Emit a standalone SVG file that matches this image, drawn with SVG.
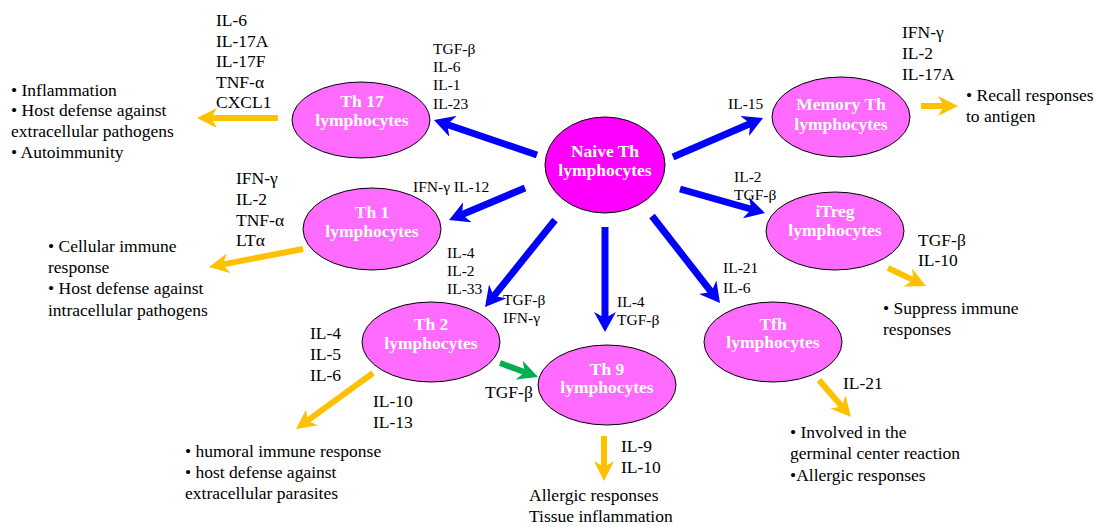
<svg xmlns="http://www.w3.org/2000/svg" width="1096" height="527" viewBox="0 0 1096 527">
<style>
.cell{fill:#ff6bff;stroke:#000;stroke-width:1}
.naive{fill:#ff00ff;stroke:#000;stroke-width:1}
.nt{font-family:"Liberation Serif","Times New Roman",serif;font-weight:bold;font-size:17.5px;fill:#fff;text-anchor:middle}
.t{font-family:"Liberation Serif","Times New Roman",serif;font-size:17.5px;fill:#000}
.s{font-family:"Liberation Serif","Times New Roman",serif;font-size:15.5px;fill:#000}
.b{stroke:#0000ff;stroke-width:7;fill:none;marker-end:url(#hb)}
.y{stroke:#ffc000;stroke-width:6;fill:none;marker-end:url(#hy)}
.g{stroke:#00b050;stroke-width:6;fill:none;marker-end:url(#hg)}
</style>
<defs>
<marker id="hb" markerUnits="userSpaceOnUse" viewBox="0 0 20 22" markerWidth="20" markerHeight="22" refX="7" refY="11" orient="auto"><path d="M0,0 L20,11 L0,22 L6,11 z" fill="#0000ff"/></marker>
<marker id="hy" markerUnits="userSpaceOnUse" viewBox="0 0 20 20" markerWidth="20" markerHeight="20" refX="7" refY="10" orient="auto"><path d="M0,0 L20,10 L0,20 L6,10 z" fill="#ffc000"/></marker>
<marker id="hg" markerUnits="userSpaceOnUse" viewBox="0 0 20 20" markerWidth="20" markerHeight="20" refX="7" refY="10" orient="auto"><path d="M0,0 L20,10 L0,20 L6,10 z" fill="#00b050"/></marker>
</defs>
<rect width="1096" height="527" fill="#fff"/>
<g id="connectors">
<line class="b" x1="537" y1="155" x2="446.3" y2="124.2"/>
<line class="b" x1="673" y1="157" x2="751.1" y2="123.2"/>
<line class="b" x1="525" y1="188" x2="461" y2="215"/>
<line class="b" x1="680" y1="189" x2="752.5" y2="209.5"/>
<line class="b" x1="555" y1="220" x2="493.2" y2="296.9"/>
<line class="b" x1="605" y1="227" x2="605" y2="319"/>
<line class="b" x1="652" y1="216" x2="712" y2="292.8"/>
<line class="g" x1="500" y1="363" x2="525.8" y2="372.5"/>
<line class="y" x1="278" y1="118" x2="210" y2="118"/>
<line class="y" x1="921" y1="106" x2="945" y2="106"/>
<line class="y" x1="303" y1="249" x2="221.8" y2="264.6"/>
<line class="y" x1="888" y1="268" x2="914.2" y2="280.4"/>
<line class="y" x1="373" y1="373" x2="306.5" y2="421.4"/>
<line class="y" x1="604" y1="436" x2="604" y2="468"/>
<line class="y" x1="819" y1="380" x2="842.5" y2="407.2"/>
</g>
<g id="naive">
<ellipse class="naive" cx="605" cy="165" rx="60" ry="48"/>
<text class="nt" x="605" y="157">Naive Th</text>
<text class="nt" x="605" y="176">lymphocytes</text>
</g>
<g id="th17">
<ellipse class="cell" cx="361" cy="120" rx="69" ry="38"/>
<text class="nt" x="362" y="107">Th 17</text>
<text class="nt" x="362" y="126">lymphocytes</text>
</g>
<g id="memory">
<ellipse class="cell" cx="841" cy="117" rx="69" ry="40"/>
<text class="nt" x="841" y="110">Memory Th</text>
<text class="nt" x="841" y="130">lymphocytes</text>
</g>
<g id="th1">
<ellipse class="cell" cx="372" cy="229" rx="69" ry="41"/>
<text class="nt" x="372" y="218">Th 1</text>
<text class="nt" x="372" y="237">lymphocytes</text>
</g>
<g id="itreg">
<ellipse class="cell" cx="835" cy="231" rx="69" ry="39"/>
<text class="nt" x="835" y="217">iTreg</text>
<text class="nt" x="835" y="236">lymphocytes</text>
</g>
<g id="th2">
<ellipse class="cell" cx="431" cy="342" rx="69" ry="40"/>
<text class="nt" x="431" y="330">Th 2</text>
<text class="nt" x="431" y="349">lymphocytes</text>
</g>
<g id="th9">
<ellipse class="cell" cx="607" cy="385" rx="69" ry="40"/>
<text class="nt" x="607" y="375">Th 9</text>
<text class="nt" x="607" y="393">lymphocytes</text>
</g>
<g id="tfh">
<ellipse class="cell" cx="773" cy="342" rx="69" ry="40"/>
<text class="nt" x="773" y="330">Tfh</text>
<text class="nt" x="773" y="348">lymphocytes</text>
</g>
<g id="labels">
<text class="t" x="216" y="26">IL-6</text>
<text class="t" x="216" y="47">IL-17A</text>
<text class="t" x="216" y="67">IL-17F</text>
<text class="t" x="216" y="88">TNF-α</text>
<text class="t" x="216" y="108">CXCL1</text>
<text class="t" x="11" y="96">• Inflammation</text>
<text class="t" x="11" y="116">• Host defense against</text>
<text class="t" x="11" y="137">extracellular pathogens</text>
<text class="t" x="11" y="158">• Autoimmunity</text>
<text class="s" x="433" y="54">TGF-β</text>
<text class="s" x="433" y="72">IL-6</text>
<text class="s" x="433" y="90">IL-1</text>
<text class="s" x="433" y="109">IL-23</text>
<text class="s" x="728" y="109">IL-15</text>
<text class="t" x="902" y="38">IFN-γ</text>
<text class="t" x="902" y="59">IL-2</text>
<text class="t" x="902" y="80">IL-17A</text>
<text class="t" x="966" y="101">• Recall responses</text>
<text class="t" x="966" y="122">to antigen</text>
<text class="s" x="413" y="192">IFN-γ IL-12</text>
<text class="s" x="734" y="182">IL-2</text>
<text class="s" x="734" y="200">TGF-β</text>
<text class="t" x="236" y="184">IFN-γ</text>
<text class="t" x="236" y="205">IL-2</text>
<text class="t" x="236" y="226">TNF-α</text>
<text class="t" x="236" y="246">LTα</text>
<text class="t" x="48" y="252">• Cellular immune</text>
<text class="t" x="48" y="273">response</text>
<text class="t" x="48" y="294">• Host defense against</text>
<text class="t" x="48" y="316">intracellular pathogens</text>
<text class="s" x="447" y="258">IL-4</text>
<text class="s" x="447" y="276">IL-2</text>
<text class="s" x="447" y="294">IL-33</text>
<text class="s" x="503" y="305">TGF-β</text>
<text class="s" x="503" y="323">IFN-γ</text>
<text class="s" x="617" y="307">IL-4</text>
<text class="s" x="617" y="325">TGF-β</text>
<text class="s" x="723" y="273">IL-21</text>
<text class="s" x="723" y="293">IL-6</text>
<text class="t" x="918" y="246">TGF-β</text>
<text class="t" x="918" y="266">IL-10</text>
<text class="t" x="883" y="314">• Suppress immune</text>
<text class="t" x="883" y="335">responses</text>
<text class="t" x="310" y="339">IL-4</text>
<text class="t" x="310" y="360">IL-5</text>
<text class="t" x="310" y="381">IL-6</text>
<text class="t" x="373" y="407">IL-10</text>
<text class="t" x="373" y="428">IL-13</text>
<text class="t" x="485" y="398">TGF-β</text>
<text class="t" x="185" y="457">• humoral immune response</text>
<text class="t" x="185" y="478">• host defense against</text>
<text class="t" x="185" y="499">extracellular parasites</text>
<text class="t" x="621" y="452">IL-9</text>
<text class="t" x="621" y="473">IL-10</text>
<text class="t" x="529" y="501">Allergic responses</text>
<text class="t" x="529" y="522">Tissue inflammation</text>
<text class="t" x="843" y="389">IL-21</text>
<text class="t" x="790" y="438">• Involved in the</text>
<text class="t" x="790" y="459">germinal center reaction</text>
<text class="t" x="790" y="481">•Allergic responses</text>
</g>
</svg>
